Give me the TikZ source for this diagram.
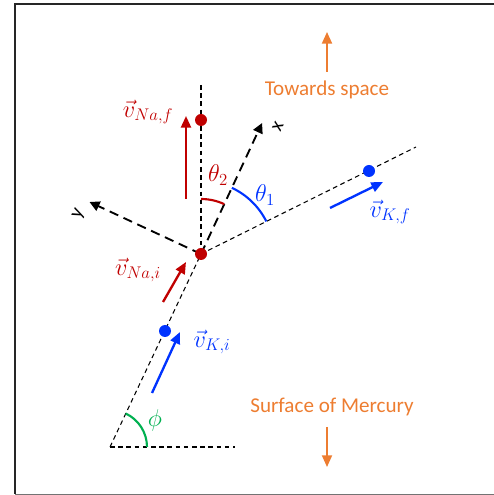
\documentclass[tikz,border=0pt]{standalone}
\usepackage{amsmath}
\usepackage{fontspec}
\setmainfont{Carlito}
\usetikzlibrary{arrows.meta, calc}
\definecolor{nared}{HTML}{C00000}
\definecolor{kblue}{HTML}{0033FF}
\definecolor{phigr}{HTML}{00B050}
\definecolor{orng}{HTML}{ED7D31}
\begin{document}
\begin{tikzpicture}[
  scale=0.3,
  font=\fontsize{18}{21}\selectfont,
  lbl/.style={font=\fontsize{21}{25}\selectfont},
  fine/.style={dash pattern=on 4pt off 3pt, line width=0.9pt},
  axis/.style={dash pattern=on 8pt off 5pt, line width=1.6pt, -{Triangle[length=3mm,width=3mm]}},
  dot/.style={circle, inner sep=0pt, minimum size=3.6mm},
  vel/.style={line width=2pt, -{Triangle[length=3.5mm,width=3mm]}},
  ang/.style={line width=1.8pt},
  dir/.style={orng, line width=1.6pt, -{Triangle[length=3.5mm,width=3mm]}}
]
\useasboundingbox (0,0) rectangle (49.3,49.5);
\draw[line width=1.3pt, black!85] (49.5,49.1) -- (1.5,49.1) -- (1.5,0.1);
\draw[line width=0.8pt, black!55] (1.5,0.1) -- (49.5,0.1);
% points
\coordinate (c0) at (20.1,24.1);
\coordinate (ks) at (11.0,4.8);
\coordinate (kh) at (23.5,4.8);
\coordinate (kt) at (41.6,34.8);
\coordinate (vt) at (20.1,41.0);
\coordinate (xt) at ($(c0)+(65:14.45)$);
\coordinate (yt) at ($(c0)+(155:12.3)$);
% dashed guide lines
\draw[fine] (vt) -- (c0);
\draw[fine] (ks) -- (c0) -- (kt);
\draw[fine] (ks) -- (kh);
\draw[axis] (c0) -- (xt);
\draw[axis] (c0) -- (yt);
\node[font=\fontsize{17}{19}\selectfont, rotate=65] (xl) at (27.8,36.8) {x};
\node[font=\fontsize{17}{19}\selectfont, rotate=65] (yl) at (7.9,28.1) {y};
% angles
\draw[ang, kblue] ($(c0)+(26.5:7.3)$) arc[start angle=26.5, end angle=65, radius=7.3];
\draw[ang, nared] ($(c0)+(65:5.5)$) arc[start angle=65, end angle=90, radius=5.5];
\draw[ang, phigr] ($(ks)+(0:3.7)$) arc[start angle=0, end angle=65, radius=3.7];
\node[lbl, text=kblue] (t1) at (26.5,30.0) {$\theta_1$};
\node[lbl, text=nared] (t2) at (21.8,32.0) {$\theta_2$};
\node[lbl, text=phigr] (ph) at (15.5,7.5) {$\phi$};
% velocities
\coordinate (nf1) at (18.6,29.6); \coordinate (nf2) at (18.6,37.9);
\coordinate (ni1) at (16.3,19.3); \coordinate (ni2) at (18.6,23.3);
\coordinate (kf1) at (33.0,28.7); \coordinate (kf2) at (38.3,31.3);
\coordinate (ki1) at (15.2,10.2); \coordinate (ki2) at (18.0,16.3);
\draw[vel, nared] (nf1) -- (nf2);
\draw[vel, nared] (ni1) -- (ni2);
\draw[vel, kblue] (kf1) -- (kf2);
\draw[vel, kblue] (ki1) -- (ki2);
\node[lbl, text=nared] (lnf) at (14.8,38.3) {$\vec{v}_{Na,f}$};
\node[lbl, text=nared] (lni) at (13.8,22.5) {$\vec{v}_{Na,i}$};
\node[lbl, text=kblue] (lkf) at (39.0,28.3) {$\vec{v}_{K,f}$};
\node[lbl, text=kblue] (lki) at (21.2,15.3) {$\vec{v}_{K,i}$};
% particles
\node[dot, fill=nared] (col) at (c0) {};
\node[dot, fill=nared] (naf) at (20.1,37.5) {};
\node[dot, fill=kblue] (kf) at (36.9,32.4) {};
\node[dot, fill=kblue] (ki) at (16.5,16.4) {};
% directions
\node[text=orng] (sp) at (32.7,40.5) {Towards space};
\node[text=orng] (sf) at (33.2,8.8) {Surface of Mercury};
\coordinate (sp1) at (32.7,42.3); \coordinate (sp2) at (32.7,46.3);
\coordinate (sf1) at (32.7,6.8); \coordinate (sf2) at (32.7,2.8);
\draw[dir] (sp1) -- (sp2);
\draw[dir] (sf1) -- (sf2);
\end{tikzpicture}
\end{document}
